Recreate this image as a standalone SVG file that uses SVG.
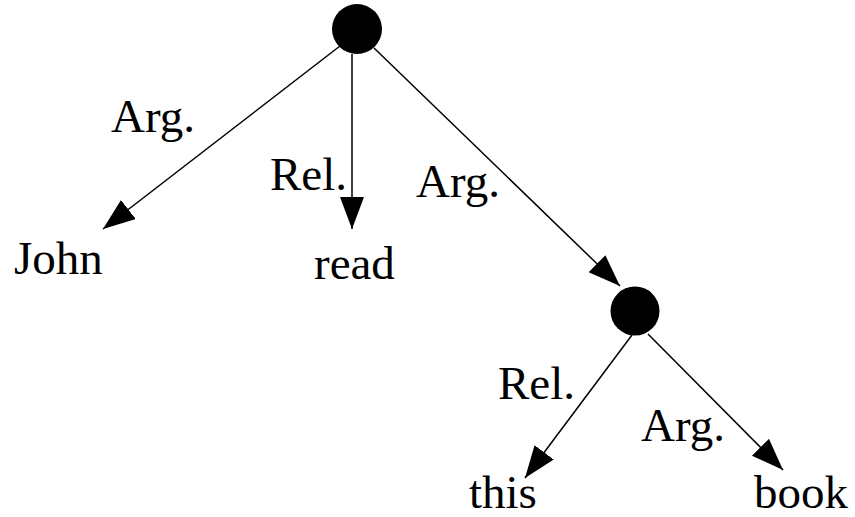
<svg xmlns="http://www.w3.org/2000/svg" width="855" height="517" viewBox="0 0 855 517">
  <style>
    .node { fill: #000; }
    .edge { stroke: #000; stroke-width: 1.5; fill: none; marker-end: url(#head); }
    .lbl { font-family: 'Times New Roman', 'Liberation Serif', 'Nimbus Roman', 'DejaVu Serif', serif; font-size: 47px; fill: #000; }
  </style>
  <defs>
    <marker id="head" markerUnits="userSpaceOnUse" markerWidth="36" markerHeight="26" refX="32" refY="12" orient="auto">
      <path d="M0,0 L32,12 L0,24 Z" fill="#000"/>
    </marker>
  </defs>
  <rect width="855" height="517" fill="#fff"/>

  <!-- tree edges -->
  <g id="connectors">
    <line class="edge" x1="340" y1="46" x2="103" y2="229"/>
    <line class="edge" x1="352" y1="54" x2="352" y2="229"/>
    <line class="edge" x1="374" y1="48" x2="620" y2="286"/>
    <line class="edge" x1="632" y1="335" x2="525" y2="478"/>
    <line class="edge" x1="648" y1="334" x2="783" y2="470"/>
  </g>

  <!-- branching nodes -->
  <g id="root"><circle class="node" cx="357" cy="29" r="25"/></g>
  <g id="np"><circle class="node" cx="635" cy="311" r="24.5"/></g>

  <g id="edge-labels">
    <text class="lbl" x="111" y="132">Arg.</text>
    <text class="lbl" x="270" y="190">Rel.</text>
    <text class="lbl" x="416" y="197">Arg.</text>
    <text class="lbl" x="498" y="399">Rel.</text>
    <text class="lbl" x="641" y="441">Arg.</text>
  </g>

  <!-- leaves -->
  <g id="john"><text class="lbl" x="14" y="274">John</text></g>
  <g id="read"><text class="lbl" x="314" y="279">read</text></g>
  <g id="this"><text class="lbl" x="469" y="508">this</text></g>
  <g id="book"><text class="lbl" x="754" y="508">book</text></g>
</svg>
